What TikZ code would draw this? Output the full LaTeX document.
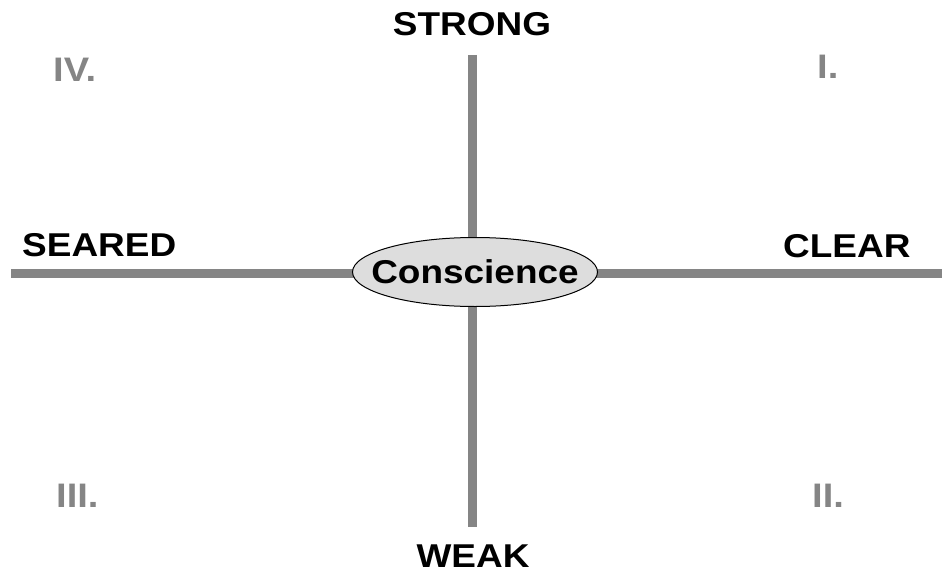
\documentclass[tikz,border=0pt]{standalone}
\usepackage{fontspec}
\newfontfamily\lab[FakeStretch=1.12]{Liberation Sans}
\usetikzlibrary{shapes.geometric}
\definecolor{axisgray}{HTML}{858585}
\definecolor{numgray}{HTML}{858585}
\definecolor{ellfill}{HTML}{DDDDDD}
\begin{document}
\begin{tikzpicture}[x=1pt,y=-1pt,
  axis/.style={draw=axisgray,line width=9pt},
  word/.style={font=\lab\bfseries\fontsize{33}{38}\selectfont,inner sep=0pt,anchor=base},
  num/.style={font=\lab\bfseries\fontsize{34}{38}\selectfont,text=numgray,inner sep=0pt,anchor=base west},
  ellnode/.style={ellipse,draw=black,line width=1pt,fill=ellfill,minimum width=245pt,minimum height=69pt,inner sep=0pt,
    font=\lab\bfseries\fontsize{35}{40}\selectfont}]
\useasboundingbox (0,0) rectangle (942,575);
\fill[white] (0,0) rectangle (942,575);
\coordinate (w) at (11,273);
\coordinate (e) at (942,273);
\coordinate (n) at (472,55);
\coordinate (s) at (472,527);
\draw[axis] (w) -- (e);
\draw[axis] (n) -- (s);
\node[ellnode] (c) at (475,272) {};
\node[word] (ct) at (475,283) {Conscience};
\node[word] (strong) at (472,36) {STRONG};
\node[word,anchor=base west] (seared) at (22,256) {SEARED};
\node[word,anchor=base west] (clear) at (783,257) {CLEAR};
\node[word] (weak) at (473,567) {WEAK};
\node[num] (n4) at (53,82) {IV.};
\node[num] (n1) at (817,79) {I.};
\node[num] (n3) at (56,507) {III.};
\node[num] (n2) at (812,507) {II.};
\end{tikzpicture}
\end{document}
